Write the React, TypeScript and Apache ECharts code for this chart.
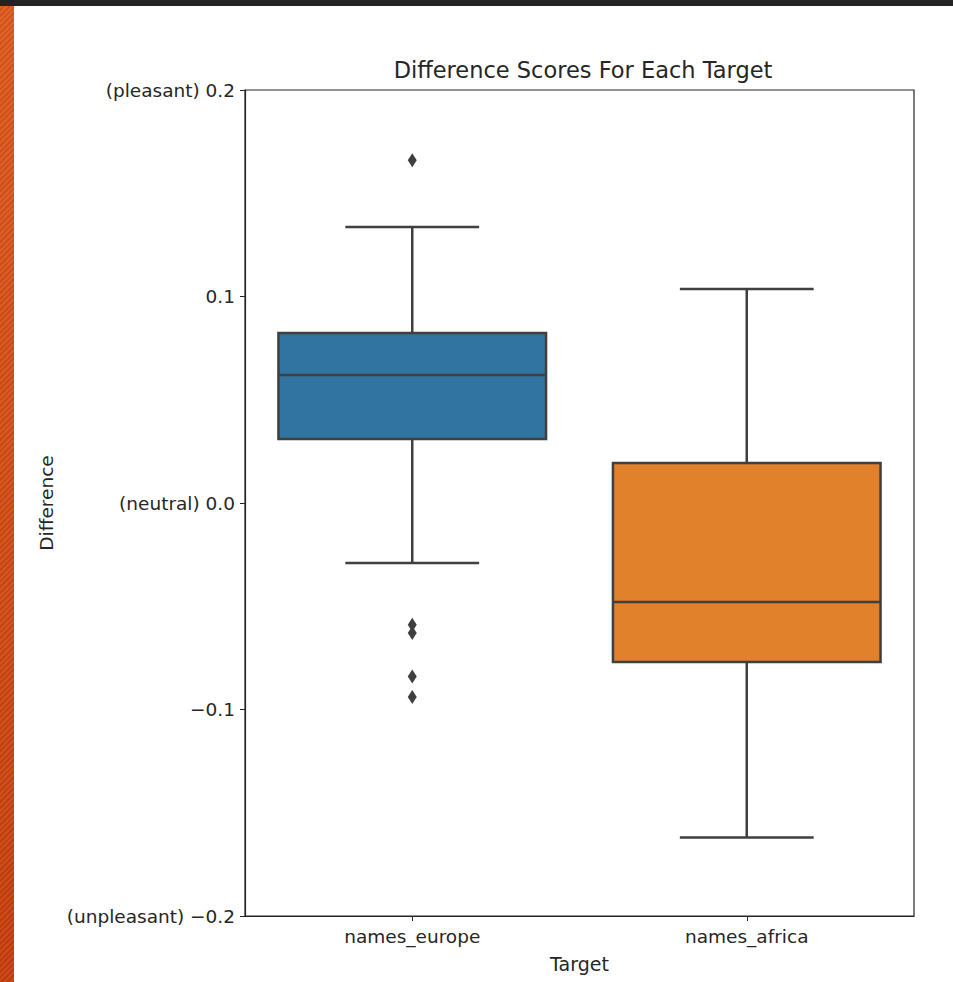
import React, { useEffect, useRef } from "react";
import * as echarts from "echarts";

// Categories and five-number summaries (whisker low, Q1, median, Q3, whisker high)
const categories = ["names_europe", "names_africa"];
const whiskerLow = [-0.029, -0.162];
const q1 = [0.031, -0.077];
const median = [0.062, -0.048];
const q3 = [0.0823, 0.0194];
const whiskerHigh = [0.1337, 0.1036];

// Points beyond the whiskers
const europeOutliers = [0.166, -0.059, -0.063, -0.084, -0.094];
const africaOutliers: number[] = [];

// Y axis ticks and their labels
const yTickValues = [-0.2, -0.1, 0.0, 0.1, 0.2];
const yTickLabels = ["(unpleasant) \u22120.2", "\u22120.1", "(neutral) 0.0", "0.1", "(pleasant) 0.2"];

const boxColors = ["#3274a1", "#e1812c"];
const edgeColor = "#3f3f3f";
const textColor = "#262626";
const font = "'DejaVu Sans', sans-serif";

export default function App() {
  const ref = useRef<HTMLDivElement>(null);

  useEffect(() => {
    if (!ref.current) return;
    const chart = echarts.init(ref.current, undefined, { renderer: "svg" });

    const boxData = categories.map((_, i) => [i, whiskerLow[i], q1[i], median[i], q3[i], whiskerHigh[i]]);
    const outlierData = [
      ...europeOutliers.map((v) => [0, v]),
      ...africaOutliers.map((v) => [1, v]),
    ];

    chart.setOption({
      animation: false,
      backgroundColor: "transparent",
      title: {
        text: "Difference Scores For Each Target",
        left: 578,
        textAlign: "center",
        top: 53,
        textStyle: { fontFamily: font, fontSize: 22.5, fontWeight: "normal", color: textColor },
      },
      grid: {
        left: 245,
        right: 39,
        top: 90,
        bottom: 66,
        show: true,
        borderColor: textColor,
        borderWidth: 1.2,
        backgroundColor: "#fff",
      },
      xAxis: {
        type: "category",
        data: categories,
        boundaryGap: true,
        name: "Target",
        nameLocation: "middle",
        nameGap: 38,
        nameTextStyle: { fontFamily: font, fontSize: 19, color: textColor },
        axisLine: { show: true, onZero: false, lineStyle: { color: textColor, width: 1.2 } },
        axisTick: { show: true, alignWithLabel: true, length: 5, lineStyle: { color: textColor } },
        axisLabel: { fontFamily: font, fontSize: 18.5, color: textColor, margin: 11 },
        splitLine: { show: false },
      },
      yAxis: {
        type: "value",
        min: -0.2,
        max: 0.2,
        interval: 0.1,
        name: "Difference",
        nameLocation: "middle",
        nameGap: 187,
        nameTextStyle: { fontFamily: font, fontSize: 18.5, color: textColor },
        axisLine: { show: true, onZero: false, lineStyle: { color: textColor, width: 1.2 } },
        axisTick: { show: true, length: 5, lineStyle: { color: textColor } },
        axisLabel: {
          fontFamily: font,
          fontSize: 18.5,
          color: textColor,
          margin: 10,
          formatter: (v: number) => {
            const idx = yTickValues.findIndex((t) => Math.abs(t - v) < 1e-9);
            return idx >= 0 ? yTickLabels[idx] : "";
          },
        },
        splitLine: { show: false },
      },
      series: [
        {
          type: "custom",
          data: boxData,
          encode: { x: 0, y: [1, 2, 3, 4, 5] },
          renderItem: (params: any, api: any) => {
            const cat = api.value(0);
            const band = api.size([1, 0])[0];
            const boxW = band * 0.8;
            const capW = boxW * 0.5;
            const pLow = api.coord([cat, api.value(1)]);
            const pQ1 = api.coord([cat, api.value(2)]);
            const pMed = api.coord([cat, api.value(3)]);
            const pQ3 = api.coord([cat, api.value(4)]);
            const pHigh = api.coord([cat, api.value(5)]);
            const cx = pMed[0];
            const lineStyle = { stroke: edgeColor, lineWidth: 2.5 };
            return {
              type: "group",
              children: [
                { type: "line", shape: { x1: cx, y1: pQ3[1], x2: cx, y2: pHigh[1] }, style: lineStyle },
                { type: "line", shape: { x1: cx, y1: pQ1[1], x2: cx, y2: pLow[1] }, style: lineStyle },
                { type: "line", shape: { x1: cx - capW / 2, y1: pHigh[1], x2: cx + capW / 2, y2: pHigh[1] }, style: lineStyle },
                { type: "line", shape: { x1: cx - capW / 2, y1: pLow[1], x2: cx + capW / 2, y2: pLow[1] }, style: lineStyle },
                {
                  type: "rect",
                  shape: { x: cx - boxW / 2, y: pQ3[1], width: boxW, height: pQ1[1] - pQ3[1] },
                  style: { fill: boxColors[params.dataIndex], stroke: edgeColor, lineWidth: 2.5 },
                },
                { type: "line", shape: { x1: cx - boxW / 2, y1: pMed[1], x2: cx + boxW / 2, y2: pMed[1] }, style: lineStyle },
              ],
            };
          },
          z: 2,
        },
        {
          type: "scatter",
          data: outlierData,
          symbol: "diamond",
          symbolSize: [9, 14],
          itemStyle: { color: edgeColor, opacity: 1 },
          z: 3,
        },
      ],
    });

    return () => chart.dispose();
  }, []);

  return (
    <div style={{ position: "fixed", left: 0, top: 0, width: 953, height: 982, background: "#fff", overflow: "hidden" }}>
      <div style={{ position: "absolute", left: 0, top: 0, width: 953, height: 6, background: "#232323" }} />
      <div
        style={{
          position: "absolute",
          left: 0,
          top: 6,
          width: 14,
          height: 976,
          background:
            "repeating-linear-gradient(135deg, rgba(255,255,255,0.06) 0 2px, rgba(0,0,0,0.06) 2px 4px), linear-gradient(180deg, #e0591c 0%, #d24a14 60%, #c83e0c 100%)",
        }}
      />
      <div ref={ref} style={{ position: "absolute", left: 0, top: 0, width: 953, height: 982 }} />
    </div>
  );
}
